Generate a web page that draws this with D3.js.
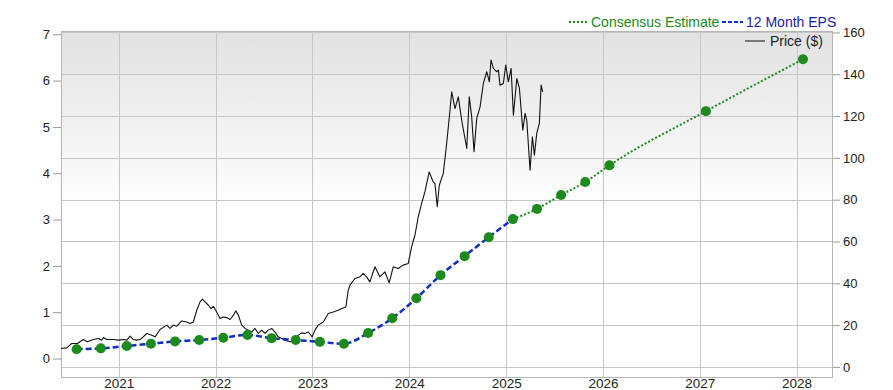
<!DOCTYPE html>
<html>
<head>
<meta charset="utf-8">
<script src="https://cdn.jsdelivr.net/npm/d3@7"></script>
<style>
  body { margin: 0; background: #fff; }
  svg { display: block; font-family: "Liberation Sans", Arial, sans-serif; }
</style>
</head>
<body>
<svg id="chart"></svg>
<script>
// quarterly trailing 12 month EPS (actuals)
const epsDates = ["2020-07-26", "2020-10-25", "2021-01-31", "2021-05-02", "2021-08-01",
  "2021-10-31", "2022-01-30", "2022-05-01", "2022-07-31", "2022-10-30", "2023-01-29",
  "2023-04-30", "2023-07-30", "2023-10-29", "2024-01-28", "2024-04-28", "2024-07-28",
  "2024-10-27", "2025-01-26"];
const epsValues = [0.20, 0.22, 0.27, 0.32, 0.37, 0.40, 0.45, 0.51, 0.44, 0.40, 0.36,
  0.32, 0.55, 0.87, 1.30, 1.80, 2.21, 2.62, 3.01];

// consensus estimates (starts at last actual)
const estDates = ["2025-01-26", "2025-04-27", "2025-07-27", "2025-10-26", "2026-01-25",
  "2027-01-24", "2028-01-25"];
const estValues = [3.01, 3.23, 3.53, 3.81, 4.17, 5.34, 6.46];

// share price, dates as decimal years
const priceYears = [2020.397, 2020.463, 2020.514, 2020.572, 2020.634, 2020.676, 2020.737,
  2020.789, 2020.824, 2020.841, 2020.876, 2020.944, 2020.996, 2021.047, 2021.082, 2021.116,
  2021.150, 2021.185, 2021.220, 2021.289, 2021.340, 2021.374, 2021.426, 2021.495, 2021.529,
  2021.563, 2021.598, 2021.650, 2021.702, 2021.736, 2021.770, 2021.805, 2021.839, 2021.863,
  2021.891, 2021.925, 2021.953, 2021.976, 2022.011, 2022.045, 2022.080, 2022.115, 2022.149,
  2022.183, 2022.208, 2022.235, 2022.270, 2022.304, 2022.338, 2022.373, 2022.407, 2022.441,
  2022.476, 2022.510, 2022.544, 2022.579, 2022.613, 2022.647, 2022.682, 2022.716, 2022.768,
  2022.820, 2022.854, 2022.889, 2022.923, 2022.957, 2022.998, 2023.026, 2023.060, 2023.112,
  2023.164, 2023.215, 2023.267, 2023.302, 2023.346, 2023.370, 2023.388, 2023.439, 2023.491,
  2023.525, 2023.560, 2023.594, 2023.646, 2023.697, 2023.749, 2023.793, 2023.835, 2023.886,
  2023.938, 2023.990, 2024.025, 2024.059, 2024.093, 2024.128, 2024.162, 2024.206, 2024.248,
  2024.265, 2024.289, 2024.310, 2024.351, 2024.386, 2024.410, 2024.438, 2024.472, 2024.506,
  2024.541, 2024.593, 2024.619, 2024.644, 2024.668, 2024.696, 2024.730, 2024.764, 2024.799,
  2024.826, 2024.843, 2024.867, 2024.902, 2024.919, 2024.936, 2024.970, 2024.995, 2025.022,
  2025.050, 2025.074, 2025.109, 2025.136, 2025.171, 2025.195, 2025.212, 2025.246, 2025.270,
  2025.291, 2025.315, 2025.342, 2025.360, 2025.377];
const priceValues = [8.8, 9.1, 11.2, 11.2, 13.1, 12.0, 13.1, 13.6, 12.8, 14.1, 13.1, 13.1,
  12.8, 13.1, 12.8, 14.7, 13.1, 12.8, 13.1, 16.0, 15.2, 14.4, 17.9, 20.0, 18.4, 20.0, 19.5,
  22.0, 21.5, 20.8, 21.5, 27.1, 31.1, 32.4, 31.1, 29.5, 27.9, 29.0, 26.3, 23.2, 23.9, 23.6,
  22.7, 24.7, 26.8, 24.7, 20.0, 18.4, 17.6, 16.7, 18.4, 16.0, 17.6, 16.0, 17.6, 18.4, 16.7,
  14.4, 13.6, 12.8, 12.0, 12.8, 15.2, 16.3, 16.0, 16.7, 14.4, 17.6, 20.0, 21.5, 25.6, 26.3,
  27.1, 27.9, 28.7, 36.7, 39.1, 42.3, 43.1, 44.7, 43.1, 40.7, 47.9, 43.1, 45.5, 40.2, 47.9,
  47.1, 48.7, 49.5, 57.4, 63.0, 71.8, 78.2, 83.7, 93.3, 88.5, 87.8, 76.6, 86.9, 92.5, 106.9,
  118.0, 131.6, 123.6, 129.2, 118.0, 104.5, 129.2, 119.6, 102.9, 118.9, 124.4, 135.6, 141.2,
  136.4, 146.8, 142.8, 141.2, 142.0, 134.8, 135.6, 144.4, 136.4, 142.8, 120.4, 138.0, 133.2,
  113.3, 121.3, 118.0, 94.1, 110.1, 101.3, 111.7, 116.5, 134.8, 131.6];

const epsTicks = [0, 1, 2, 3, 4, 5, 6, 7];
const priceTicks = [0, 20, 40, 60, 80, 100, 120, 140, 160];
const yearTicks = [2021, 2022, 2023, 2024, 2025, 2026, 2027, 2028];

const size = { width: 893, height: 390 };
const margin = { top: 31, right: 60, bottom: 12, left: 61 };

const GREEN = "#1c8a1c";
const BLUE = "#0f2fc4";

const parse = d3.timeParse("%Y-%m-%d");
const fromYear = (v) => {
  const y = Math.floor(v);
  const a = new Date(y, 0, 1);
  const b = new Date(y + 1, 0, 1);
  return new Date(+a + (v - y) * (b - a));
};

const eps = epsDates.map((d, i) => ({ date: parse(d), value: epsValues[i] }));
const est = estDates.map((d, i) => ({ date: parse(d), value: estValues[i] }));
const price = priceYears.map((d, i) => ({ date: fromYear(d), value: priceValues[i] }));

const svg = d3.select("#chart").attr("width", size.width).attr("height", size.height);

const x = d3
  .scaleTime()
  .domain([fromYear(2020.404), fromYear(2028.375)])
  .range([margin.left, size.width - margin.right]);

const yEps = d3
  .scaleLinear()
  .domain([-0.42, 7.07])
  .range([size.height - margin.bottom, margin.top]);

const yPrice = d3
  .scaleLinear()
  .domain([-5.3, 160.7])
  .range([size.height - margin.bottom, margin.top]);

const plotW = size.width - margin.left - margin.right;
const plotH = size.height - margin.top - margin.bottom;

// background gradient
const defs = svg.append("defs");
const grad = defs
  .append("linearGradient")
  .attr("id", "bg")
  .attr("x1", 0).attr("y1", 0).attr("x2", 0).attr("y2", 1);
grad.append("stop").attr("offset", "0%").attr("stop-color", "#e2e2e2");
grad.append("stop").attr("offset", "52%").attr("stop-color", "#ffffff");
grad.append("stop").attr("offset", "100%").attr("stop-color", "#ffffff");

defs
  .append("clipPath")
  .attr("id", "clip")
  .append("rect")
  .attr("x", margin.left)
  .attr("y", margin.top)
  .attr("width", plotW)
  .attr("height", plotH);

svg
  .append("rect")
  .attr("x", margin.left)
  .attr("y", margin.top)
  .attr("width", plotW)
  .attr("height", plotH)
  .attr("fill", "url(#bg)");

// grid
const grid = svg.append("g").attr("stroke", "#c6c6c6").attr("stroke-width", 1);
priceTicks.forEach((v) => {
  grid
    .append("line")
    .attr("x1", margin.left)
    .attr("x2", size.width - margin.right)
    .attr("y1", Math.round(yPrice(v)) + 0.5)
    .attr("y2", Math.round(yPrice(v)) + 0.5);
});
yearTicks.forEach((yr) => {
  const px = Math.round(x(new Date(yr, 0, 1))) + 0.5;
  grid
    .append("line")
    .attr("x1", px)
    .attr("x2", px)
    .attr("y1", margin.top)
    .attr("y2", size.height - margin.bottom);
});

svg
  .append("rect")
  .attr("x", margin.left + 0.5)
  .attr("y", margin.top + 0.5)
  .attr("width", plotW - 1)
  .attr("height", plotH - 1)
  .attr("fill", "none")
  .attr("stroke", "#b4b4b4");

// lines
const plot = svg.append("g").attr("clip-path", "url(#clip)");

const priceLine = d3
  .line()
  .x((d) => x(d.date))
  .y((d) => yPrice(d.value));

plot
  .append("path")
  .datum(price)
  .attr("fill", "none")
  .attr("stroke", "#111")
  .attr("stroke-width", 1.1)
  .attr("stroke-linejoin", "round")
  .attr("d", priceLine);

const epsLine = d3
  .line()
  .curve(d3.curveMonotoneX)
  .x((d) => x(d.date))
  .y((d) => yEps(d.value));

plot
  .append("path")
  .datum(eps)
  .attr("fill", "none")
  .attr("stroke", BLUE)
  .attr("stroke-width", 2.5)
  .attr("stroke-dasharray", "6,3")
  .attr("d", epsLine);

plot
  .append("path")
  .datum(est)
  .attr("fill", "none")
  .attr("stroke", GREEN)
  .attr("stroke-width", 2)
  .attr("stroke-dasharray", "2,2")
  .attr("d", epsLine);

plot
  .append("g")
  .attr("fill", GREEN)
  .selectAll("circle")
  .data(eps.concat(est.slice(1)))
  .join("circle")
  .attr("cx", (d) => x(d.date))
  .attr("cy", (d) => yEps(d.value))
  .attr("r", 5);

// axes
const left = svg
  .append("g")
  .attr("transform", `translate(${margin.left},0)`)
  .call(d3.axisLeft(yEps).tickValues(epsTicks).tickSize(8).tickPadding(3).tickFormat(d3.format("d")));
const right = svg
  .append("g")
  .attr("transform", `translate(${size.width - margin.right},0)`)
  .call(d3.axisRight(yPrice).tickValues(priceTicks).tickSize(7).tickPadding(3).tickFormat(d3.format("d")));
const bottom = svg
  .append("g")
  .attr("transform", `translate(0,${size.height - margin.bottom})`)
  .call(
    d3
      .axisBottom(x)
      .tickValues(yearTicks.map((yr) => new Date(yr, 0, 1)))
      .tickSize(0)
      .tickPadding(0)
      .tickFormat(d3.timeFormat("%Y"))
  );

[left, right, bottom].forEach((g) => {
  g.select(".domain").remove();
  g.selectAll(".tick line").attr("stroke", "#999");
  g.selectAll("text").attr("fill", "#222").style("font-size", "13px").style("font-family", "'Liberation Sans', Arial, sans-serif");
});
bottom.selectAll("text").style("font-size", "13.5px");

// legend
const legend = svg.append("g").style("font-size", "14px");
legend
  .append("line")
  .attr("x1", 569).attr("x2", 587).attr("y1", 22).attr("y2", 22)
  .attr("stroke", GREEN).attr("stroke-width", 2).attr("stroke-dasharray", "2,2");
legend
  .append("text")
  .attr("x", 591).attr("y", 27)
  .attr("fill", GREEN)
  .text("Consensus Estimate");
legend
  .append("line")
  .attr("x1", 722).attr("x2", 743).attr("y1", 22).attr("y2", 22)
  .attr("stroke", BLUE).attr("stroke-width", 2).attr("stroke-dasharray", "4,2");
legend
  .append("text")
  .attr("x", 746).attr("y", 27)
  .attr("fill", "#1a1ab0")
  .text("12 Month EPS");
legend
  .append("line")
  .attr("x1", 745).attr("x2", 765).attr("y1", 41).attr("y2", 41)
  .attr("stroke", "#777").attr("stroke-width", 2);
legend
  .append("text")
  .attr("x", 770).attr("y", 46)
  .attr("fill", "#222")
  .text("Price ($)");
</script>
</body>
</html>
